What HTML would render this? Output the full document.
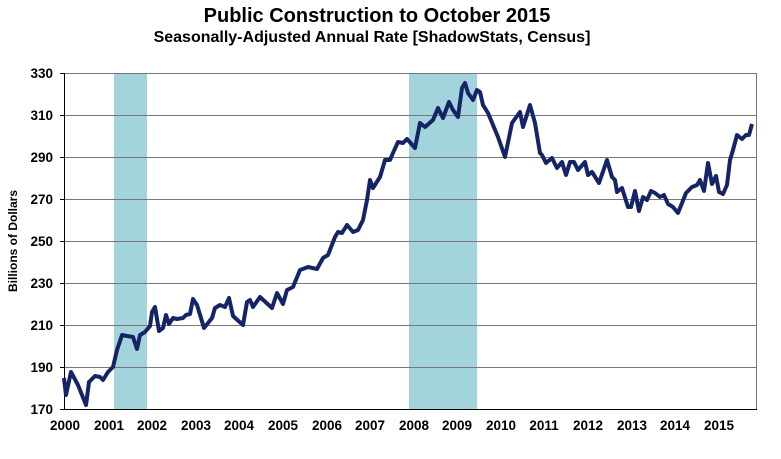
<!DOCTYPE html>
<html><head><meta charset="utf-8"><style>body{margin:0;background:#fff}svg{display:block}text{font-family:"Liberation Sans",Arial,sans-serif;font-weight:bold;fill:#000}</style></head><body>
<svg width="781" height="459" viewBox="0 0 781 459">
<text x="377" y="22" font-size="20" text-anchor="middle">Public Construction to October 2015</text>
<text x="372" y="42" font-size="16" text-anchor="middle">Seasonally-Adjusted Annual Rate [ShadowStats, Census]</text>
<rect x="114" y="73" width="33" height="336" fill="#a3d3db"/>
<rect x="409" y="73" width="68" height="336" fill="#a3d3db"/>
<g stroke="#777" stroke-width="1">
<line x1="64" y1="73.5" x2="757" y2="73.5"/><line x1="64" y1="115.5" x2="757" y2="115.5"/><line x1="64" y1="157.5" x2="757" y2="157.5"/><line x1="64" y1="199.5" x2="757" y2="199.5"/><line x1="64" y1="241.5" x2="757" y2="241.5"/><line x1="64" y1="283.5" x2="757" y2="283.5"/><line x1="64" y1="325.5" x2="757" y2="325.5"/><line x1="64" y1="367.5" x2="757" y2="367.5"/>
<line x1="756.5" y1="73" x2="756.5" y2="409"/>
</g>
<g stroke="#000" stroke-width="1">
<line x1="64.5" y1="73" x2="64.5" y2="410"/><line x1="64" y1="409.5" x2="757" y2="409.5"/>
<line x1="60" y1="73.5" x2="64" y2="73.5"/><line x1="60" y1="115.5" x2="64" y2="115.5"/><line x1="60" y1="157.5" x2="64" y2="157.5"/><line x1="60" y1="199.5" x2="64" y2="199.5"/><line x1="60" y1="241.5" x2="64" y2="241.5"/><line x1="60" y1="283.5" x2="64" y2="283.5"/><line x1="60" y1="325.5" x2="64" y2="325.5"/><line x1="60" y1="367.5" x2="64" y2="367.5"/><line x1="60" y1="409.5" x2="64" y2="409.5"/>
</g>
<g font-size="13.5" text-anchor="end">
<text x="53" y="78">330</text><text x="53" y="120">310</text><text x="53" y="162">290</text><text x="53" y="204">270</text><text x="53" y="246">250</text><text x="53" y="288">230</text><text x="53" y="330">210</text><text x="53" y="372">190</text><text x="53" y="414">170</text>
</g>
<g font-size="13.5" text-anchor="middle">
<text x="65" y="430">2000</text><text x="109" y="430">2001</text><text x="152" y="430">2002</text><text x="196" y="430">2003</text><text x="239" y="430">2004</text><text x="283" y="430">2005</text><text x="327" y="430">2006</text><text x="370" y="430">2007</text><text x="414" y="430">2008</text><text x="457" y="430">2009</text><text x="501" y="430">2010</text><text x="544" y="430">2011</text><text x="588" y="430">2012</text><text x="632" y="430">2013</text><text x="675" y="430">2014</text><text x="719" y="430">2015</text>
</g>
<text transform="translate(17,241) rotate(-90)" font-size="12" text-anchor="middle">Billions  of Dollars</text>
<polyline fill="none" stroke="#142466" stroke-width="4" stroke-linejoin="round" points="64,378 66,395 71,372 78,385 86,405 89,382 95,376 100,377 103,380 108,372 113,367 117,350 122,335 127,336 133,337 137,349 140,335 145,332 150,326 152,312 155,307 159,331 163,328 166,315 169,324 173,318 177,319 183,318 186,315 190,314 193,299 197,305 201,318 204,328 212,318 215,308 220,305 225,307 229,298 233,316 243,325 247,302 250,300 253,307 260,297 272,308 277,293 283,304 287,290 293,287 300,270 308,267 317,269 323,258 328,255 335,237 338,232 342,233 347,225 353,232 358,230 363,220 367,200 370,180 373,188 380,177 385,160 390,160 393,153 398,142 403,143 407,139 415,148 420,123 425,127 433,120 438,108 443,118 449,102 453,110 458,117 462,88 465,83 468,93 473,100 477,90 480,92 483,105 488,113 498,137 505,157 512,123 520,112 523,127 530,105 535,123 540,153 542,155 546,163 552,158 557,168 562,162 566,175 570,162 574,162 578,170 585,162 588,175 592,172 599,183 607,160 612,177 615,180 617,192 622,188 628,207 631,207 635,191 639,211 643,197 647,200 651,191 655,193 660,197 664,195 668,204 673,207 678,213 686,193 692,187 697,185 700,180 704,191 708,163 712,184 716,176 719,192 723,194 727,185 730,160 733,150 737,135 742,139 746,135 749,135 752,124"/>
</svg>
</body></html>
